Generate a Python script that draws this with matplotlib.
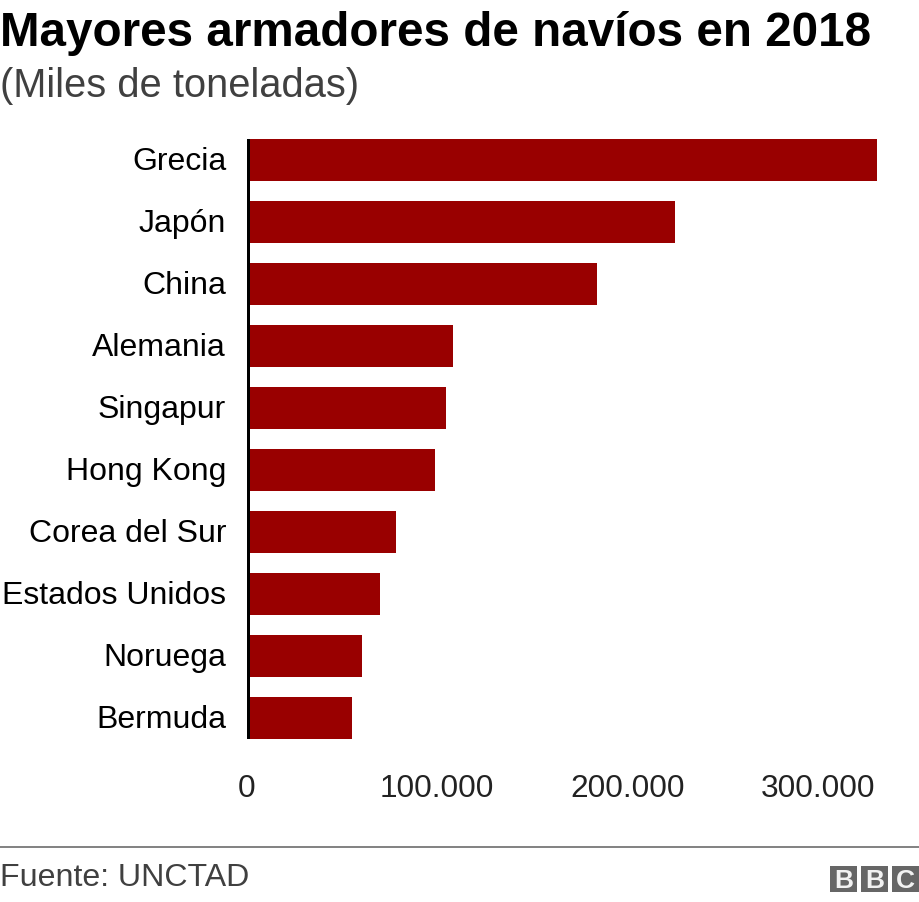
import matplotlib
matplotlib.use('Agg')
import matplotlib.pyplot as plt
from matplotlib.patches import Rectangle
from matplotlib.transforms import ScaledTranslation

# Values in thousands of tons
countries = ['Grecia', 'Japón', 'China', 'Alemania', 'Singapur', 'Hong Kong',
             'Corea del Sur', 'Estados Unidos', 'Noruega', 'Bermuda']
tons = [330000, 223800, 183300, 107400, 103900, 98100, 77500, 69000, 59700, 54600]
ticks = [0, 100000, 200000, 300000]
tick_labels = ['0', '100.000', '200.000', '300.000']

plt.rcParams['font.family'] = ['Liberation Sans', 'DejaVu Sans']

W, H = 920, 902
fig = plt.figure(figsize=(W / 100, H / 100), dpi=100)

# Plot area in pixels
left, right, top, bottom = 247, 877, 129, 749
ax = fig.add_axes([left / W, 1 - bottom / H, (right - left) / W, (bottom - top) / H])
ax.barh(range(len(countries)), tons, height=0.677, color='#990000')
ax.set_ylim(len(countries) - 0.5, -0.5)
ax.set_xlim(-524, 330000)

ax.set_yticks(range(len(countries)))
ax.set_yticklabels(countries, fontsize=23, color='#000000')
ax.set_xticks(ticks)
ax.set_xticklabels(tick_labels, fontsize=22.8, color='#222222')
ax.tick_params(axis='both', length=0)
ax.tick_params(axis='y', pad=15)
ax.tick_params(axis='x', pad=18)

# nudge tick labels by a couple of pixels
for lab in ax.get_xticklabels():
    lab.set_transform(lab.get_transform() + ScaledTranslation(-1 / 72, 0, fig.dpi_scale_trans))
for lab in ax.get_yticklabels():
    lab.set_transform(lab.get_transform() + ScaledTranslation(0, 1.4 / 72, fig.dpi_scale_trans))

for side in ['top', 'right', 'bottom', 'left']:
    ax.spines[side].set_visible(False)
ax.plot([0, 0], [-0.34, 9.34], color='#000000', lw=2.88, solid_capstyle='butt', zorder=5)

fig.text(0, 1 - 46 / H, 'Mayores armadores de navíos en 2018', fontsize=34.3,
         fontweight='bold', color='#000000', va='baseline')
fig.text(0, 1 - 97 / H, '(Miles de toneladas)', fontsize=28.7, color='#404040', va='baseline')

# Footer
fig.add_artist(plt.Line2D([0, 1], [1 - 846.5 / H, 1 - 846.5 / H], color='#777777', lw=1.3))
fig.text(0, 1 - 886 / H, 'Fuente: UNCTAD', fontsize=23.1, color='#404040', va='baseline')

# BBC blocks
for x0, letter in zip([830, 861, 892], 'BBC'):
    fig.add_artist(Rectangle((x0 / W, 1 - 892 / H), 27 / W, 26 / H, color='#666666',
                             lw=0, transform=fig.transFigure))
    fig.text((x0 + 13.5) / W, 1 - 879 / H, letter, fontsize=19, fontweight='bold', color='#f2f2f2',
             ha='center', va='center_baseline')

fig.savefig('out.png', dpi=100)
